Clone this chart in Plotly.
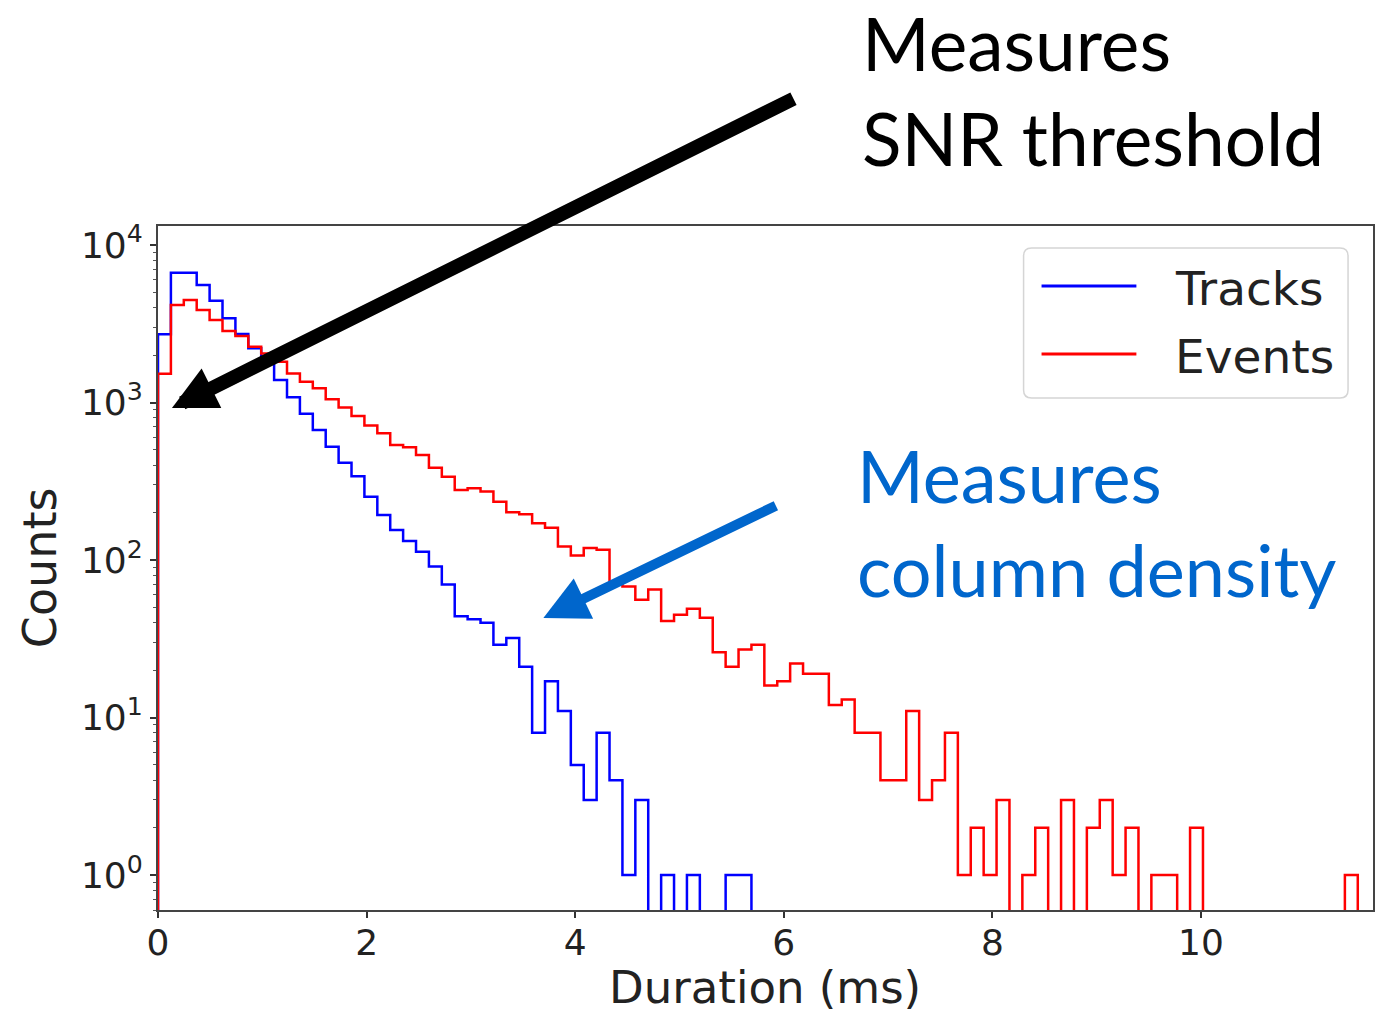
import numpy as np
import plotly.graph_objects as go

# ---------------- data ----------------
bin_width = 0.1237  # ms, shared histogram bin width

track_counts = [2710, 6670, 6670, 5570, 4430, 3430, 2720, 2210, 1770, 1390,
                1080, 850, 669, 524, 414, 340, 252, 193, 155, 132,
                113, 91, 70, 44, 42, 40, 29, 32, 21, 8,
                17, 11, 5, 3, 8, 4, 1, 3, 0, 1,
                0, 1, 0, 0, 1, 1]

event_counts = [1520, 4160, 4480, 3870, 3340, 2840, 2640, 2260, 2050, 1815,
                1530, 1355, 1230, 1050, 930, 820, 715, 637, 537, 520,
                464, 385, 338, 278, 286, 272, 234, 201, 195, 171,
                160, 122, 107, 119, 116, 72, 68, 56, 65, 41,
                45, 49, 43, 26, 21, 27, 29, 16, 17, 22,
                19, 19, 12, 13, 8, 8, 4, 4, 11, 3,
                4, 8, 1, 2, 1, 3, 0, 1, 2, 0,
                3, 0, 2, 3, 1, 2, 0, 1, 1, 0,
                2, 0, 0, 0, 0, 0, 0, 0, 0, 0,
                0, 0, 1]

series_names = ["Tracks", "Events"]
series_colors = ["#0000FF", "#FF0000"]

x_ticks = [0, 2, 4, 6, 8, 10]
y_ticks = [1, 10, 100, 1000, 10000]
y_ticktext = ["10<sup>0</sup>", "10<sup>1</sup>", "10<sup>2</sup>",
              "10<sup>3</sup>", "10<sup>4</sup>"]

x_range = [0, 11.65]
y_range = [0.6, 13200]

# ---------------- figure geometry ----------------
W, H = 1383, 1015
L, R, T, B = 158, 8, 226, 105
PW, PH = W - L - R, H - T - B


def px(xpix):
    return (xpix - L) / PW


def py(ypix):
    return (H - B - ypix) / PH


FLOOR = 1e-2  # below the visible axis -> step drops to the bottom


def step_xy(counts, width):
    n = len(counts)
    edges = np.arange(n + 1) * width
    xs = [edges[0]] + list(edges[:-1]) + [edges[-1]]
    ys = [FLOOR] + [c if c > 0 else FLOOR for c in counts] + [FLOOR]
    return xs, ys


fig = go.Figure()
for name, counts, color in zip(series_names, [track_counts, event_counts], series_colors):
    xs, ys = step_xy(counts, bin_width)
    fig.add_trace(go.Scatter(x=xs, y=ys, mode="lines", name=name,
                             line=dict(color=color, width=2.5, shape="hv"),
                             showlegend=False, hoverinfo="skip"))

minor_vals = [m * 10.0 ** k for k in range(-1, 5) for m in range(2, 10)
              if y_range[0] <= m * 10.0 ** k <= y_range[1]]

tick_font = dict(family="DejaVu Sans", size=36, color="#222222")
fig.update_xaxes(range=x_range, tickvals=x_ticks, ticktext=[str(v) for v in x_ticks],
                 ticks="outside", ticklen=6, tickwidth=1.5, tickcolor="#333333",
                 ticklabelstandoff=-6,
                 showline=True, linecolor="#444444", linewidth=2, mirror=True,
                 showgrid=False, zeroline=False, tickfont=tick_font)
fig.update_yaxes(type="log", range=[np.log10(y_range[0]), np.log10(y_range[1])],
                 tickvals=y_ticks, ticktext=y_ticktext,
                 ticks="outside", ticklen=6, tickwidth=1.5, tickcolor="#333333",
                 minor=dict(tickvals=minor_vals, ticks="outside", ticklen=3,
                            tickwidth=1, tickcolor="#555555", showgrid=False),
                 showline=True, linecolor="#444444", linewidth=2, mirror=True,
                 showgrid=False, zeroline=False, tickfont=tick_font)

annotations = []
# axis titles
annotations.append(dict(text="Counts", x=px(40), y=0.5, xref="paper", yref="paper",
                        textangle=-90, showarrow=False, xanchor="center", yanchor="middle",
                        font=dict(family="DejaVu Sans", size=46, color="#222222")))
annotations.append(dict(text="Duration (ms)", x=px(766), y=py(987), xref="paper", yref="paper",
                        showarrow=False, xanchor="center", yanchor="middle",
                        font=dict(family="DejaVu Sans", size=45, color="#222222")))

# legend (drawn by hand to match the long sample lines)
shapes = []
lx0, lx1, ly0, ly1, rad = 1025, 1350, 248, 398, 8


def rounded_path(x0, y0, x1, y1, r):
    pts = [
        f"M {px(x0 + r)} {py(y0)}",
        f"L {px(x1 - r)} {py(y0)}",
        f"Q {px(x1)} {py(y0)} {px(x1)} {py(y0 + r)}",
        f"L {px(x1)} {py(y1 - r)}",
        f"Q {px(x1)} {py(y1)} {px(x1 - r)} {py(y1)}",
        f"L {px(x0 + r)} {py(y1)}",
        f"Q {px(x0)} {py(y1)} {px(x0)} {py(y1 - r)}",
        f"L {px(x0)} {py(y0 + r)}",
        f"Q {px(x0)} {py(y0)} {px(x0 + r)} {py(y0)} Z",
    ]
    return " ".join(pts)


shapes.append(dict(type="path", path=rounded_path(lx0, ly0, lx1, ly1, rad),
                   xref="paper", yref="paper", fillcolor="rgba(255,255,255,0.85)",
                   line=dict(color="#d5d5d5", width=1.5), layer="above"))
for i, (name, color) in enumerate(zip(series_names, series_colors)):
    ypix = 286 + i * 68
    shapes.append(dict(type="line", xref="paper", yref="paper",
                       x0=px(1043), x1=px(1138), y0=py(ypix), y1=py(ypix),
                       line=dict(color=color, width=3), layer="above"))
    annotations.append(dict(text=name, x=px(1175), y=py(ypix + 2), xref="paper", yref="paper",
                            showarrow=False, xanchor="left", yanchor="middle",
                            font=dict(family="DejaVu Sans", size=47, color="#222222")))

# callouts
black_tip = (172, 408)
black_tail = (795, 98)
annotations.append(dict(text="", x=px(black_tip[0]), y=py(black_tip[1]), xref="paper", yref="paper",
                        ax=black_tail[0] - black_tip[0], ay=black_tail[1] - black_tip[1],
                        showarrow=True, arrowhead=2, arrowsize=0.63, arrowwidth=14,
                        arrowcolor="#000000"))
annotations.append(dict(text="Measures<br>SNR threshold", x=px(861), y=py(91),
                        xref="paper", yref="paper", showarrow=False, xanchor="left",
                        yanchor="middle", align="left",
                        font=dict(family="Lato", size=73, color="#000000")))

blue = "#0066CC"
blue_tip = (544, 618)
blue_tail = (778, 505)
annotations.append(dict(text="", x=px(blue_tip[0]), y=py(blue_tip[1]), xref="paper", yref="paper",
                        ax=blue_tail[0] - blue_tip[0], ay=blue_tail[1] - blue_tip[1],
                        showarrow=True, arrowhead=2, arrowsize=0.89, arrowwidth=10,
                        arrowcolor=blue))
annotations.append(dict(text="Measures<br>column density", x=px(856), y=py(522),
                        xref="paper", yref="paper", showarrow=False, xanchor="left",
                        yanchor="middle", align="left",
                        font=dict(family="Lato", size=72, color=blue)))

fig.update_layout(width=W, height=H, margin=dict(l=L, r=R, t=T, b=B, pad=0),
                  paper_bgcolor="white", plot_bgcolor="white",
                  shapes=shapes, annotations=annotations, showlegend=False)

fig.write_html("out.html", config={"displayModeBar": False})
